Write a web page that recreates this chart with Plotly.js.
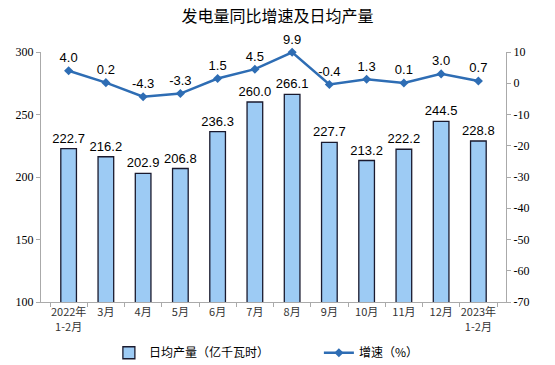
<!DOCTYPE html>
<html><head><meta charset="utf-8">
<script src="https://cdn.plot.ly/plotly-3.0.1.min.js"></script>
<style>body{margin:0;background:#fff}#c{width:555px;height:365px}</style>
</head><body><div id="c"></div>
<script>
const categories = ["2022年<br>1-2月","3月","4月","5月","6月","7月","8月","9月","10月","11月","12月","2023年<br>1-2月"];
const dailyOutput = [222.7,216.2,202.9,206.8,236.3,260.0,266.1,227.7,213.2,222.2,244.5,228.8];
const growth = [4.0,0.2,-4.3,-3.3,1.5,4.5,9.9,-0.4,1.3,0.1,3.0,0.7];
const leftTicks = [100,150,200,250,300];
const rightTicks = [-70,-60,-50,-40,-30,-20,-10,0,10];

const labelFont = {family:"Liberation Sans, Arial", size:13, color:"#000"};
const traces = [
 {type:"bar", x:categories, y:dailyOutput, name:"日均产量（亿千瓦时）",
  marker:{color:"#9dcbf4", line:{color:"#1a1a2e", width:1.3}},
  width:0.42, text:dailyOutput.map(v=>v.toFixed(1)), textposition:"outside",
  constraintext:"none", textfont:labelFont, cliponaxis:false, hoverinfo:"skip"},
 {type:"scatter", mode:"lines+markers+text", x:categories, y:growth, yaxis:"y2",
  name:"增速（%）", line:{color:"#2e6db4", width:2.5},
  marker:{symbol:"diamond", size:7, color:"#2e6db4"},
  text:growth.map(v=>v.toFixed(1)), textposition:"top center",
  textfont:labelFont, cliponaxis:false, hoverinfo:"skip"}
];
const serif = "Liberation Serif, Times New Roman, serif";
const layout = {
 width:555, height:365, paper_bgcolor:"#fff", plot_bgcolor:"#fff",
 margin:{l:41, r:49, t:52, b:63, autoexpand:false},
 title:{text:"发电量同比增速及日均产量", x:0.5, xanchor:"center", y:0.955, yanchor:"middle",
  font:{family:"Noto Sans CJK SC", size:16, color:"#000"}},
 showlegend:true,
 legend:{orientation:"h", x:0.146, xanchor:"left", y:-0.145, yanchor:"top",
  entrywidth:165, entrywidthmode:"pixels",
  font:{family:"Noto Sans CJK SC", size:12, color:"#000"}, itemwidth:30, tracegroupgap:0},
 bargap:0.5,
 xaxis:{type:"category", showline:true, linecolor:"#aaa", linewidth:1, ticks:"outside",
  tickson:"boundaries", ticklen:4, tickcolor:"#aaa", tickangle:0, automargin:false,
  tickfont:{family:"Noto Sans CJK SC", size:11, color:"#333"}, showgrid:false, fixedrange:true},
 yaxis:{range:[100,300], tickvals:leftTicks, ticktext:leftTicks.map(String), showline:true,
  linecolor:"#aaa", ticks:"outside", ticklen:4, tickcolor:"#aaa", showgrid:false, zeroline:false,
  automargin:false, tickfont:{family:serif, size:12, color:"#000"}},
 yaxis2:{range:[-70,10], tickvals:rightTicks, ticktext:rightTicks.map(String), overlaying:"y",
  side:"right", showline:true, linecolor:"#aaa", ticks:"outside", ticklen:4, tickcolor:"#aaa",
  showgrid:false, zeroline:false, automargin:false, tickfont:{family:serif, size:12, color:"#000"}}
};
Plotly.newPlot("c", traces, layout, {staticPlot:true});
</script></body></html>
